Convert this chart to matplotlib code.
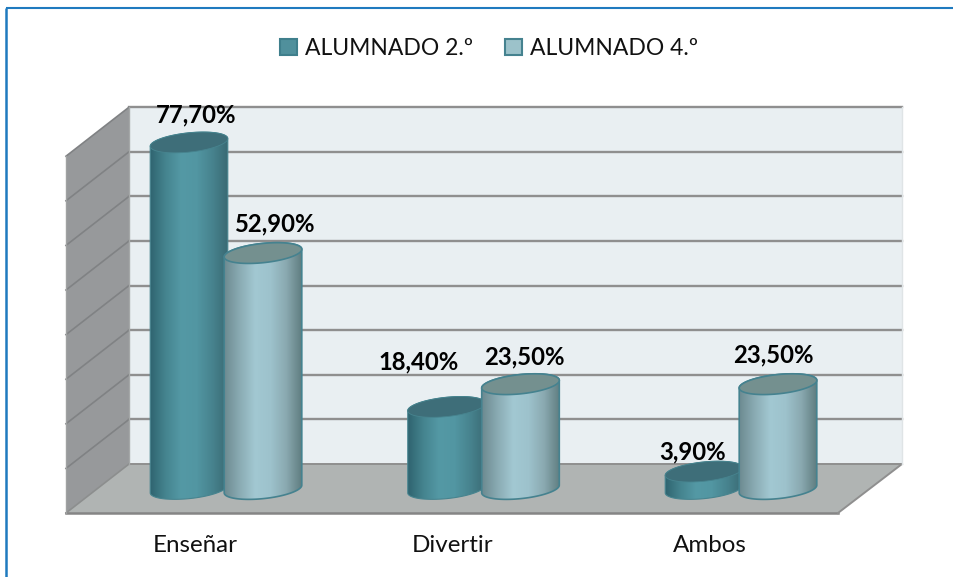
import numpy as np
import matplotlib
matplotlib.use("Agg")
import matplotlib.pyplot as plt
from matplotlib.colors import LinearSegmentedColormap
from matplotlib.patches import Patch, PathPatch, Polygon
from matplotlib.path import Path

plt.rcParams['font.family'] = ['Lato', 'DejaVu Sans']

# datos
categorias = ['Enseñar', 'Divertir', 'Ambos']
series = ['ALUMNADO 2.º', 'ALUMNADO 4.º']
alumnado_2 = [77.7, 18.4, 3.9]
alumnado_4 = [52.9, 23.5, 23.5]
niveles = [10, 20, 30, 40, 50, 60, 70, 80]

# escala: una categoria = 257.5 px, un punto = 4.46 px
PX_X = 257.5
PX_Y = 4.46
W, H = 954, 577


def X(px):  # pixel -> dato
    return (px - 226) / PX_X


def Y(py):
    return (489 - py) / PX_Y


fig = plt.figure(figsize=(W / 100, H / 100), dpi=100)
ax = fig.add_axes([0, 0, 1, 1])
ax.axis('off')

# fondo en 3D
FONDO_Y = Y(464)  # nivel 0 en la pared del fondo
FRENTE_Y = Y(513)
x_fondo0, x_fondo1 = X(129), X(902)
x_frente0, x_frente1 = X(66), X(838)
alto = niveles[-1]

ax.add_patch(Polygon([(x_fondo0, FONDO_Y), (x_fondo1, FONDO_Y), (x_fondo1, FONDO_Y + alto), (x_fondo0, FONDO_Y + alto)],
                     fc='#e9eff2', ec='none', zorder=1))
ax.add_patch(Polygon([(x_frente0, FRENTE_Y), (x_fondo0, FONDO_Y), (x_fondo0, FONDO_Y + alto), (x_frente0, FRENTE_Y + alto)],
                     fc='#97999b', ec='none', zorder=1))
ax.add_patch(Polygon([(x_frente0, FRENTE_Y), (x_fondo0, FONDO_Y), (x_fondo1, FONDO_Y), (x_frente1, FRENTE_Y)],
                     fc='#b0b4b3', ec='none', zorder=1))

for n in niveles:
    ax.plot([x_fondo0, x_fondo1], [FONDO_Y + n, FONDO_Y + n], color='#8f8f8f', lw=1.7, zorder=2)
    ax.plot([x_frente0, x_fondo0], [FRENTE_Y + n, FONDO_Y + n], color='#808284', lw=1.2, zorder=2)
ax.plot([x_fondo0, x_fondo1], [FONDO_Y, FONDO_Y], color='#8f8f8f', lw=1.4, zorder=2)
ax.plot([x_frente0, x_fondo0], [FRENTE_Y, FONDO_Y], color='#8c8e8e', lw=1.2, zorder=2)
ax.plot([x_frente0, x_frente1], [FRENTE_Y, FRENTE_Y], color='#858585', lw=1.8, zorder=2)
ax.plot([x_frente1, x_fondo1], [FRENTE_Y, FONDO_Y], color='#8f8f8f', lw=1.4, zorder=2)
ax.plot([x_fondo0, x_fondo0], [FONDO_Y, FONDO_Y + alto], color='#a5a8a8', lw=1, zorder=2)
ax.plot([x_frente0, x_frente0], [FRENTE_Y, FRENTE_Y + alto], color='#a0a2a2', lw=1, zorder=2)
ax.plot([x_fondo1, x_fondo1], [FONDO_Y, FONDO_Y + alto], color='#dfe4e6', lw=1, zorder=2)

# colores de los cilindros
cmap_2 = LinearSegmentedColormap.from_list('a2', ['#2f6470', '#45848f', '#5499a5', '#5296a2', '#47838e', '#3a6a74'])
cmap_4 = LinearSegmentedColormap.from_list('a4', ['#6c8a90', '#8aabb3', '#a2c8d2', '#9dc2cc', '#8aa9b0', '#5f7d80'])
tapa = ['#3e6e79', '#74908f']
borde = ['#47848f', '#45828f']


def elipse(cx, cy, t):  # puntos de la elipse inclinada, en datos
    a, b, th = 39.0, 9.6, np.radians(6)
    dx = a * np.cos(t) * np.cos(th) - b * np.sin(t) * np.sin(th)
    dy = a * np.cos(t) * np.sin(th) + b * np.sin(t) * np.cos(th)
    return cx + dx / PX_X, cy + dy / PX_Y


def cilindro(x, valor, s, z):
    t_sup = np.linspace(0, np.pi, 60)
    t_inf = np.linspace(np.pi, 2 * np.pi, 60)
    xs, ys = elipse(x, valor, t_sup)
    xi, yi = elipse(x, 0, t_inf)
    pts = np.column_stack([np.r_[xs, xi], np.r_[ys, yi]])
    cuerpo = PathPatch(Path(np.vstack([pts, pts[0]])), fc='none', ec=borde[s], lw=[0.8, 1.2][s], zorder=z + 0.2)
    ax.add_patch(cuerpo)
    grad = np.linspace(0, 1, 256)[None, :]
    im = ax.imshow(grad, cmap=[cmap_2, cmap_4][s], aspect='auto', zorder=z,
                   extent=(pts[:, 0].min(), pts[:, 0].max(), pts[:, 1].min(), pts[:, 1].max()))
    im.set_clip_path(cuerpo)
    t = np.linspace(0, 2 * np.pi, 120)
    xt, yt = elipse(x, valor, t)
    ax.add_patch(Polygon(np.column_stack([xt, yt]), fc=tapa[s], ec=borde[s], lw=[0.6, 1.2][s], zorder=z + 0.3))


desp = 37 / PX_X
for i in range(len(categorias)):
    cilindro(i - desp, alumnado_2[i], 0, 3 + i)
    cilindro(i + desp, alumnado_4[i], 1, 3.5 + i)


def etiqueta(v):
    return f'{v:.2f}'.replace('.', ',') + '%'


# desplazamiento de cada etiqueta respecto a la tapa, en px
ajuste_2 = [(7, 28), (-28, 45), (-11, 20)]
ajuste_4 = [(11, 29), (3.5, 27), (-5, 29)]
for i in range(len(categorias)):
    for v, aj, d in ((alumnado_2[i], ajuste_2[i], -desp), (alumnado_4[i], ajuste_4[i], desp)):
        ax.text(i + d + aj[0] / PX_X, v + aj[1] / PX_Y, etiqueta(v), ha='center', va='center',
                fontsize=17.2, fontweight='bold', color='black', zorder=10)
    ax.text(i - 31 / PX_X, Y(545), categorias[i], ha='center', va='center',
            fontsize=17.4, color='#111111', zorder=10)

handles = [Patch(fc='#50909c', ec='#3f7f8c', lw=1.5), Patch(fc='#9cc2ca', ec='#45828f', lw=1.5)]
ax.legend(handles, series, ncol=2, loc='center', bbox_to_anchor=(489 / W, 1 - 48.5 / H), frameon=False,
          fontsize=16.5, handlelength=0.72, handleheight=0.72, handletextpad=0.35, columnspacing=1.4,
          labelcolor='#111111')

# marco azul (solo arriba e izquierda)
ax.plot([X(5.5), X(5.5)], [Y(577), Y(7.5)], color='#1f7abf', lw=1.8, zorder=11, solid_capstyle='butt')
ax.plot([X(5.5), X(954)], [Y(7.5), Y(7.5)], color='#1f7abf', lw=1.5, zorder=11, solid_capstyle='butt')

ax.set_xlim(X(0), X(W))
ax.set_ylim(Y(H), Y(0))
fig.savefig('out.png', dpi=100, facecolor='white')
